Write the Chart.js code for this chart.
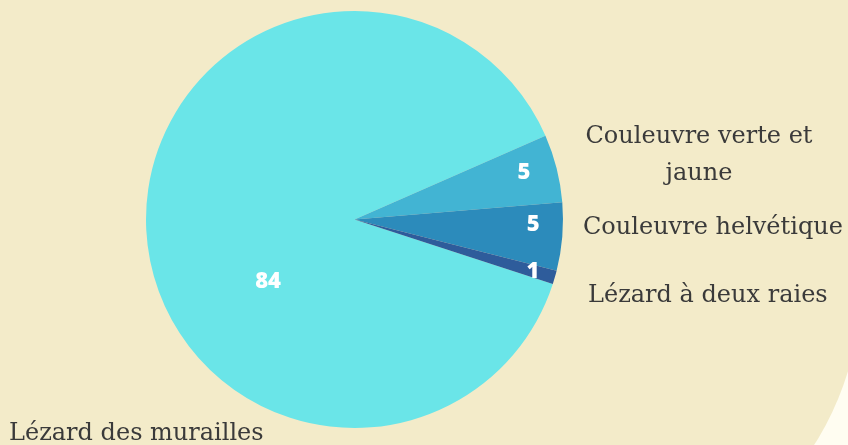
<!DOCTYPE html>
<html>
<head>
<meta charset="utf-8">
<script src="https://cdn.jsdelivr.net/npm/chart.js@4.4.1/dist/chart.umd.min.js"></script>
<style>
  html, body { margin: 0; padding: 0; width: 848px; height: 445px; overflow: hidden; background: #fffdf1; }
  #bg { position: absolute; left: 0; top: 0; width: 861px; height: 584px; background: #f3ebc9; border-bottom-right-radius: 300px; }
  #wrap { position: absolute; left: 0; top: 0; width: 848px; height: 445px; }
</style>
</head>
<body>
<div id="bg"></div>
<div id="wrap"><canvas id="c" width="848" height="445"></canvas></div>
<script>
const categories = ["Lézard des murailles", "Couleuvre verte et jaune", "Couleuvre helvétique", "Lézard à deux raies"];
const counts = [84, 5, 5, 1];
const sliceColors = ["#6ae5e8", "#42b4d3", "#2c8bbb", "#2e5c9b"];

const labelPlugin = {
  id: 'sliceLabels',
  afterDatasetsDraw(chart, args, opts) {
    const ctx = chart.ctx;
    const meta = chart.getDatasetMeta(0);
    ctx.save();
    // values inside slices
    ctx.fillStyle = '#ffffff';
    ctx.font = '800 22px "Open Sans", sans-serif';
    ctx.textAlign = 'center';
    ctx.textBaseline = 'middle';
    meta.data.forEach((arc, i) => {
      const p = arc.getProps(['x', 'y', 'startAngle', 'endAngle', 'outerRadius'], true);
      const a = p.startAngle + (p.endAngle - p.startAngle) * opts.angleFrac[i];
      const r = p.outerRadius * opts.radiusFrac[i];
      ctx.fillText(String(chart.data.datasets[0].data[i]), p.x + Math.cos(a) * r, p.y + Math.sin(a) * r);
    });
    // category names
    ctx.fillStyle = '#3a3a3a';
    ctx.font = '24px "DejaVu Serif", serif';
    ctx.textBaseline = 'alphabetic';
    opts.names.forEach((n, i) => {
      ctx.textAlign = n.align;
      n.lines.forEach((ln, k) => ctx.fillText(ln, n.x, n.y + k * 37));
    });
    ctx.restore();
  }
};

new Chart(document.getElementById('c'), {
  type: 'pie',
  data: {
    labels: categories,
    datasets: [{ data: counts, backgroundColor: sliceColors, borderWidth: 0 }]
  },
  options: {
    responsive: false,
    animation: false,
    rotation: 108,
    layout: { padding: { left: 146, right: 285, top: 11, bottom: 17 } },
    plugins: {
      legend: { display: false },
      tooltip: { enabled: false },
      sliceLabels: {
        angleFrac: [0.397, 0.438, 0.339, 0.557],
        radiusFrac: [0.51, 0.843, 0.857, 0.892],
        names: [
          { lines: ["Lézard des murailles"], x: 9, y: 440, align: 'left' },
          { lines: ["Couleuvre verte et", "jaune"], x: 699, y: 143, align: 'center' },
          { lines: ["Couleuvre helvétique"], x: 583, y: 234, align: 'left' },
          { lines: ["Lézard à deux raies"], x: 588, y: 302, align: 'left' }
        ]
      }
    }
  },
  plugins: [labelPlugin]
});
</script>
</body>
</html>
